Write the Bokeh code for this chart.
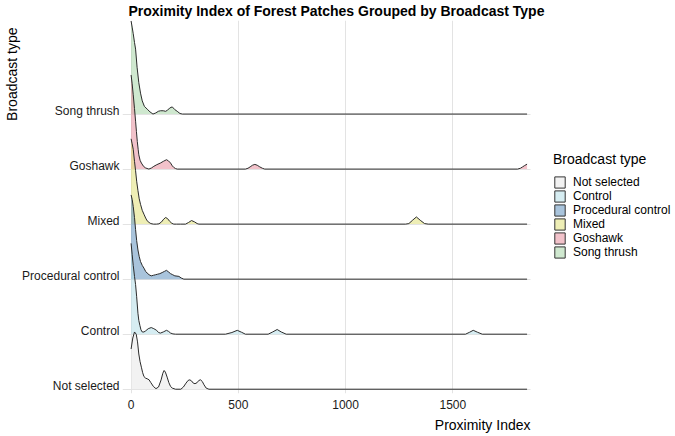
import numpy as np
from bokeh.plotting import figure
from bokeh.models import Range1d, FixedTicker, Legend, LegendItem, ColumnDataSource, Title
from bokeh.embed import file_html
from bokeh.resources import INLINE

# ---- data (x = Proximity Index, h = ridge height in row units) ----
categories = ["Not selected", "Control", "Procedural control", "Mixed", "Goshawk", "Song thrush"]
colors = ["#e9e9e9", "#bbe1e9", "#709dc5", "#e3e384", "#e999a7", "#afd9af"]

x_not_selected = [0, 8, 16, 24, 30, 36, 42, 48, 54, 60, 68, 75, 84, 92, 104, 116, 128, 140, 148, 154, 160,
                  168, 176, 184, 192, 207, 232, 244, 256, 266, 274, 282, 290, 298, 308, 316, 324, 332, 340,
                  350, 363, 1846]
h_not_selected = [0.73, 0.93, 1.04, 1.00, 0.86, 0.64, 0.50, 0.40, 0.30, 0.23, 0.20, 0.19, 0.17, 0.12, 0.05,
                  0.01, 0.04, 0.17, 0.29, 0.34, 0.31, 0.22, 0.12, 0.05, 0.02, 0.0, 0.0, 0.04, 0.11, 0.16,
                  0.17, 0.15, 0.11, 0.10, 0.12, 0.16, 0.17, 0.14, 0.08, 0.02, 0.0, 0.0]

x_control = [0, 5, 10, 16, 21, 26, 32, 36, 41, 46, 52, 60, 68, 80, 94, 106, 119, 128, 137, 150, 165, 175,
             184, 195, 207, 440, 470, 495, 515, 533, 639, 660, 681, 700, 723, 1559, 1578, 1595, 1615, 1637,
             1846]
h_control = [1.65, 1.45, 1.25, 1.05, 0.90, 0.68, 0.38, 0.25, 0.16, 0.08, 0.04, 0.04, 0.06, 0.10, 0.12, 0.10,
             0.07, 0.03, 0.02, 0.04, 0.07, 0.05, 0.02, 0.005, 0.0, 0.0, 0.03, 0.07, 0.035, 0.0, 0.0, 0.04,
             0.085, 0.04, 0.0, 0.0, 0.035, 0.07, 0.035, 0.0, 0.0]

x_procedural = [0, 5, 10, 16, 21, 26, 32, 38, 44, 52, 60, 68, 75, 84, 94, 104, 114, 124, 134, 145, 155, 165,
                175, 184, 194, 204, 214, 223, 234, 246, 1846]
h_procedural = [1.53, 1.45, 1.32, 1.12, 0.90, 0.70, 0.53, 0.41, 0.32, 0.25, 0.20, 0.14, 0.11, 0.08, 0.06,
                0.07, 0.08, 0.09, 0.10, 0.12, 0.14, 0.16, 0.13, 0.10, 0.08, 0.06, 0.055, 0.05, 0.02, 0.0, 0.0]

x_mixed = [0, 5, 10, 16, 21, 26, 32, 38, 44, 52, 60, 68, 75, 84, 92, 104, 118, 130, 142, 152, 161, 170, 180,
           190, 199, 212, 230, 254, 268, 282, 296, 308, 316, 1280, 1295, 1312, 1330, 1348, 1368, 1385, 1846]
h_mixed = [1.55, 1.46, 1.36, 1.14, 0.97, 0.78, 0.61, 0.46, 0.36, 0.25, 0.18, 0.11, 0.06, 0.03, 0.01, 0.0, 0.0,
           0.005, 0.04, 0.09, 0.12, 0.10, 0.05, 0.015, 0.0, 0.0, 0.0, 0.0, 0.03, 0.065, 0.04, 0.01, 0.0, 0.0,
           0.01, 0.07, 0.13, 0.07, 0.01, 0.0, 0.0]

x_goshawk = [0, 5, 10, 16, 21, 25, 29, 33, 36, 42, 48, 58, 68, 83, 95, 106, 120, 137, 150, 165, 174, 184, 192,
             199, 207, 215, 533, 545, 555, 566, 577, 588, 600, 612, 623, 1802, 1815, 1825, 1835, 1846]
h_goshawk = [1.71, 1.55, 1.35, 1.10, 0.87, 0.68, 0.50, 0.36, 0.26, 0.16, 0.11, 0.05, 0.02, 0.0, 0.02, 0.05,
             0.08, 0.11, 0.14, 0.17, 0.15, 0.11, 0.06, 0.03, 0.01, 0.0, 0.0, 0.015, 0.04, 0.07, 0.085, 0.07,
             0.04, 0.015, 0.0, 0.0, 0.015, 0.04, 0.065, 0.09]

x_song_thrush = [0, 5, 10, 16, 21, 28, 36, 44, 52, 62, 75, 88, 102, 115, 127, 137, 150, 161, 170, 180, 192,
                 204, 215, 228, 239, 1846]
h_song_thrush = [1.69, 1.58, 1.46, 1.30, 1.18, 0.85, 0.57, 0.38, 0.24, 0.14, 0.09, 0.04, 0.0, 0.02, 0.05,
                 0.06, 0.06, 0.05, 0.07, 0.11, 0.13, 0.08, 0.05, 0.01, 0.0, 0.0]

x_ticks = [0, 500, 1000, 1500]

x_values = [x_not_selected, x_control, x_procedural, x_mixed, x_goshawk, x_song_thrush]
h_values = [h_not_selected, h_control, h_procedural, h_mixed, h_goshawk, h_song_thrush]

FONT = "Liberation Sans"

# panel spans -40..1862 in data units over 408 px; the frame is widened to the right edge
# of the canvas so the legend can sit inside it (grid lines are bounded to the panel).
X_LO, X_HI = -40, 1862
FRAME_LEFT, PANEL_RIGHT = 122, 530
px_per_unit = (PANEL_RIGHT - FRAME_LEFT) / (X_HI - X_LO)
x_far = X_LO + (675 - FRAME_LEFT) / px_per_unit

p = figure(width=675, height=436, output_backend="svg", toolbar_location=None,
           x_range=Range1d(X_LO, x_far), y_range=Range1d(-0.078, 6.70),
           min_border_left=FRAME_LEFT, min_border_right=0, min_border_top=20, min_border_bottom=43,
           title="Proximity Index of Forest Patches Grouped by Broadcast Type")
p.outline_line_color = None
p.background_fill_color = "white"
p.border_fill_color = "white"

p.title.text_font = FONT
p.title.text_font_size = "14px"
p.title.text_font_style = "bold"
p.title.text_color = "black"
p.title.align = "left"
p.title.vertical_align = "top"
p.title.offset = 6
p.title.standoff = 0

# grid
p.xgrid.ticker = FixedTicker(ticks=x_ticks)
p.xgrid.grid_line_color = "#e3e3e3"
p.xgrid.grid_line_width = 1
p.ygrid.ticker = FixedTicker(ticks=list(range(len(categories))))
p.ygrid.grid_line_color = "#e3e3e3"
p.ygrid.grid_line_width = 1
p.ygrid.cross_bounds = (X_LO, X_HI)

# ridges: top row drawn first so lower rows overlay
for i in reversed(range(len(categories))):
    xs = x_values[i]
    hs = h_values[i]
    src = ColumnDataSource(dict(x=xs, base=[i] * len(xs), top=[i + h for h in hs]))
    p.varea(x="x", y1="base", y2="top", source=src, fill_color=colors[i], fill_alpha=0.6)
    p.line(x="x", y="top", source=src, line_color="#2b2b2b", line_width=1)

# x axis
xa = p.xaxis[0]
xa.ticker = FixedTicker(ticks=x_ticks)
xa.axis_line_color = None
xa.major_tick_line_color = None
xa.minor_tick_line_color = None
xa.major_tick_out = 0
xa.major_tick_in = 0
xa.minor_tick_out = 0
xa.minor_tick_in = 0
xa.major_label_text_font = FONT
xa.major_label_text_font_size = "12px"
xa.major_label_text_color = "#1a1a1a"
xa.major_label_standoff = 6

# y axis
label_offset = 0.06
y_tick_pos = [i + label_offset for i in range(len(categories))]
ya = p.yaxis[0]
ya.ticker = FixedTicker(ticks=y_tick_pos)
ya.major_label_overrides = {t: c for t, c in zip(y_tick_pos, categories)}
ya.axis_line_color = None
ya.major_tick_line_color = None
ya.minor_tick_line_color = None
ya.major_tick_out = 0
ya.major_tick_in = 0
ya.minor_tick_out = 0
ya.minor_tick_in = 0
ya.major_label_text_font = FONT
ya.major_label_text_font_size = "12px"
ya.major_label_text_color = "#1a1a1a"
ya.major_label_standoff = 3

# axis titles, aligned to the end of each axis
x_title = Title(text="Proximity Index", align="right", text_font=FONT, text_font_size="14px",
                text_font_style="normal", text_color="black", standoff=7, vertical_align="bottom",
                offset=675 - PANEL_RIGHT)
p.add_layout(x_title, "below")
y_title = Title(text="Broadcast type", align="right", text_font=FONT, text_font_size="14px",
                text_font_style="normal", text_color="black", standoff=0, offset=7)
p.add_layout(y_title, "left")

# legend (key boxes come from renderers with no drawable data)
nan_col = np.array([np.nan])
items = []
for i, c in enumerate(categories):
    r = p.quad(left=nan_col, right=nan_col, bottom=nan_col, top=nan_col,
               fill_color=colors[i], fill_alpha=0.6, line_color="#333333", line_width=1)
    items.append(LegendItem(label=c, renderers=[r]))
legend = Legend(items=items, location=(553 - FRAME_LEFT, 393 - 259), title="Broadcast type")
legend.title_text_font = FONT
legend.title_text_font_size = "14px"
legend.title_text_font_style = "normal"
legend.title_text_color = "black"
legend.title_standoff = 8
legend.label_text_font = FONT
legend.label_text_font_size = "12px"
legend.label_text_color = "black"
legend.glyph_width = 13
legend.glyph_height = 14
legend.label_height = 14
legend.label_standoff = 7
legend.spacing = 0
legend.padding = 0
legend.margin = 0
legend.border_line_color = None
legend.background_fill_alpha = 0
p.add_layout(legend)

open("out.html", "w").write(file_html(p, INLINE))
